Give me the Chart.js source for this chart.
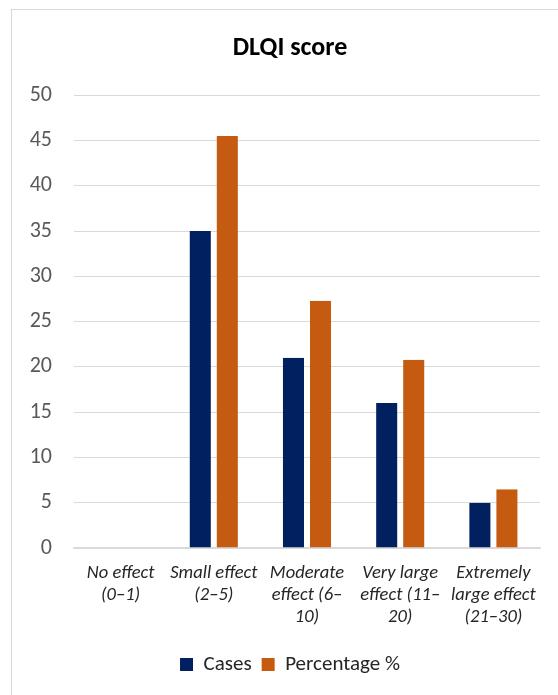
<!DOCTYPE html>
<html>
<head>
<meta charset="utf-8">
<script src="https://cdn.jsdelivr.net/npm/chart.js@4/dist/chart.umd.min.js"></script>
<style>
  html, body { margin: 0; padding: 0; background: #fff; }
  body { width: 558px; height: 695px; overflow: hidden; position: relative; }
  #frame {
    position: absolute; left: 11px; top: 9px; width: 600px; height: 700px;
    border-left: 1px solid #d9d9d9; border-top: 1px solid #d9d9d9;
    box-sizing: border-box;
  }
  #c { position: absolute; left: 0; top: 0; }
</style>
</head>
<body>
<div id="frame"></div>
<canvas id="c" width="580" height="695"></canvas>
<script>
// DLQI score bands and counts
const categories = [
  ['No effect', '(0–1)'],
  ['Small effect', '(2–5)'],
  ['Moderate', 'effect (6–', '10)'],
  ['Very large', 'effect (11–', '20)'],
  ['Extremely', 'large effect', '(21–30)']
];
const cases = [0, 35, 21, 16, 5];
const percentage = [0, 45.5, 27.3, 20.8, 6.5];
const yTicks = [0, 5, 10, 15, 20, 25, 30, 35, 40, 45, 50];

const FONT = 'Carlito, Calibri, Lato, sans-serif';
const barGap = { left: 3, right: 3, top: 0, bottom: 0 };

new Chart(document.getElementById('c'), {
  type: 'bar',
  data: {
    labels: categories,
    datasets: [
      {
        label: 'Cases',
        data: cases,
        backgroundColor: '#002060',
        borderColor: 'rgba(0,0,0,0)',
        borderWidth: barGap,
        borderSkipped: false
      },
      {
        label: 'Percentage %',
        data: percentage,
        backgroundColor: '#C55A11',
        borderColor: 'rgba(0,0,0,0)',
        borderWidth: barGap,
        borderSkipped: false
      }
    ]
  },
  options: {
    responsive: false,
    animation: false,
    devicePixelRatio: 1,
    layout: { padding: { left: 0, right: 0, top: 33, bottom: 10 } },
    datasets: { bar: { categoryPercentage: 0.58, barPercentage: 1.0 } },
    plugins: {
      tooltip: { enabled: false },
      title: {
        display: true,
        text: 'DLQI score',
        color: '#000000',
        font: { family: FONT, size: 26, weight: 'bold' },
        padding: { top: 0, bottom: 31 }
      },
      legend: {
        position: 'bottom',
        labels: {
          color: '#262626',
          font: { family: FONT, size: 21 },
          boxWidth: 13,
          boxHeight: 13,
          padding: 10
        }
      }
    },
    scales: {
      x: {
        grid: { display: false, drawTicks: false },
        border: { display: true, color: '#d9d9d9', width: 1.5 },
        ticks: {
          color: '#262626',
          font: { family: FONT, size: 18.5, style: 'italic', lineHeight: 1.2 },
          padding: 14,
          maxRotation: 0,
          autoSkip: false
        },
        afterFit: (s) => { s.height = 96; }
      },
      y: {
        min: 0,
        max: 50,
        afterBuildTicks: (s) => { s.ticks = yTicks.map(v => ({ value: v })); },
        grid: { color: '#d9d9d9', lineWidth: 1, drawTicks: false },
        border: { display: false },
        ticks: {
          color: '#595959',
          font: { family: FONT, size: 22 },
          padding: 22
        },
        afterFit: (s) => { s.width = 74; }
      },
      yRight: {
        position: 'right',
        min: 0,
        max: 50,
        grid: { drawOnChartArea: false, drawTicks: false },
        border: { display: false },
        ticks: { display: false },
        afterFit: (s) => { s.width = 40; }
      }
    }
  }
});
</script>
</body>
</html>
